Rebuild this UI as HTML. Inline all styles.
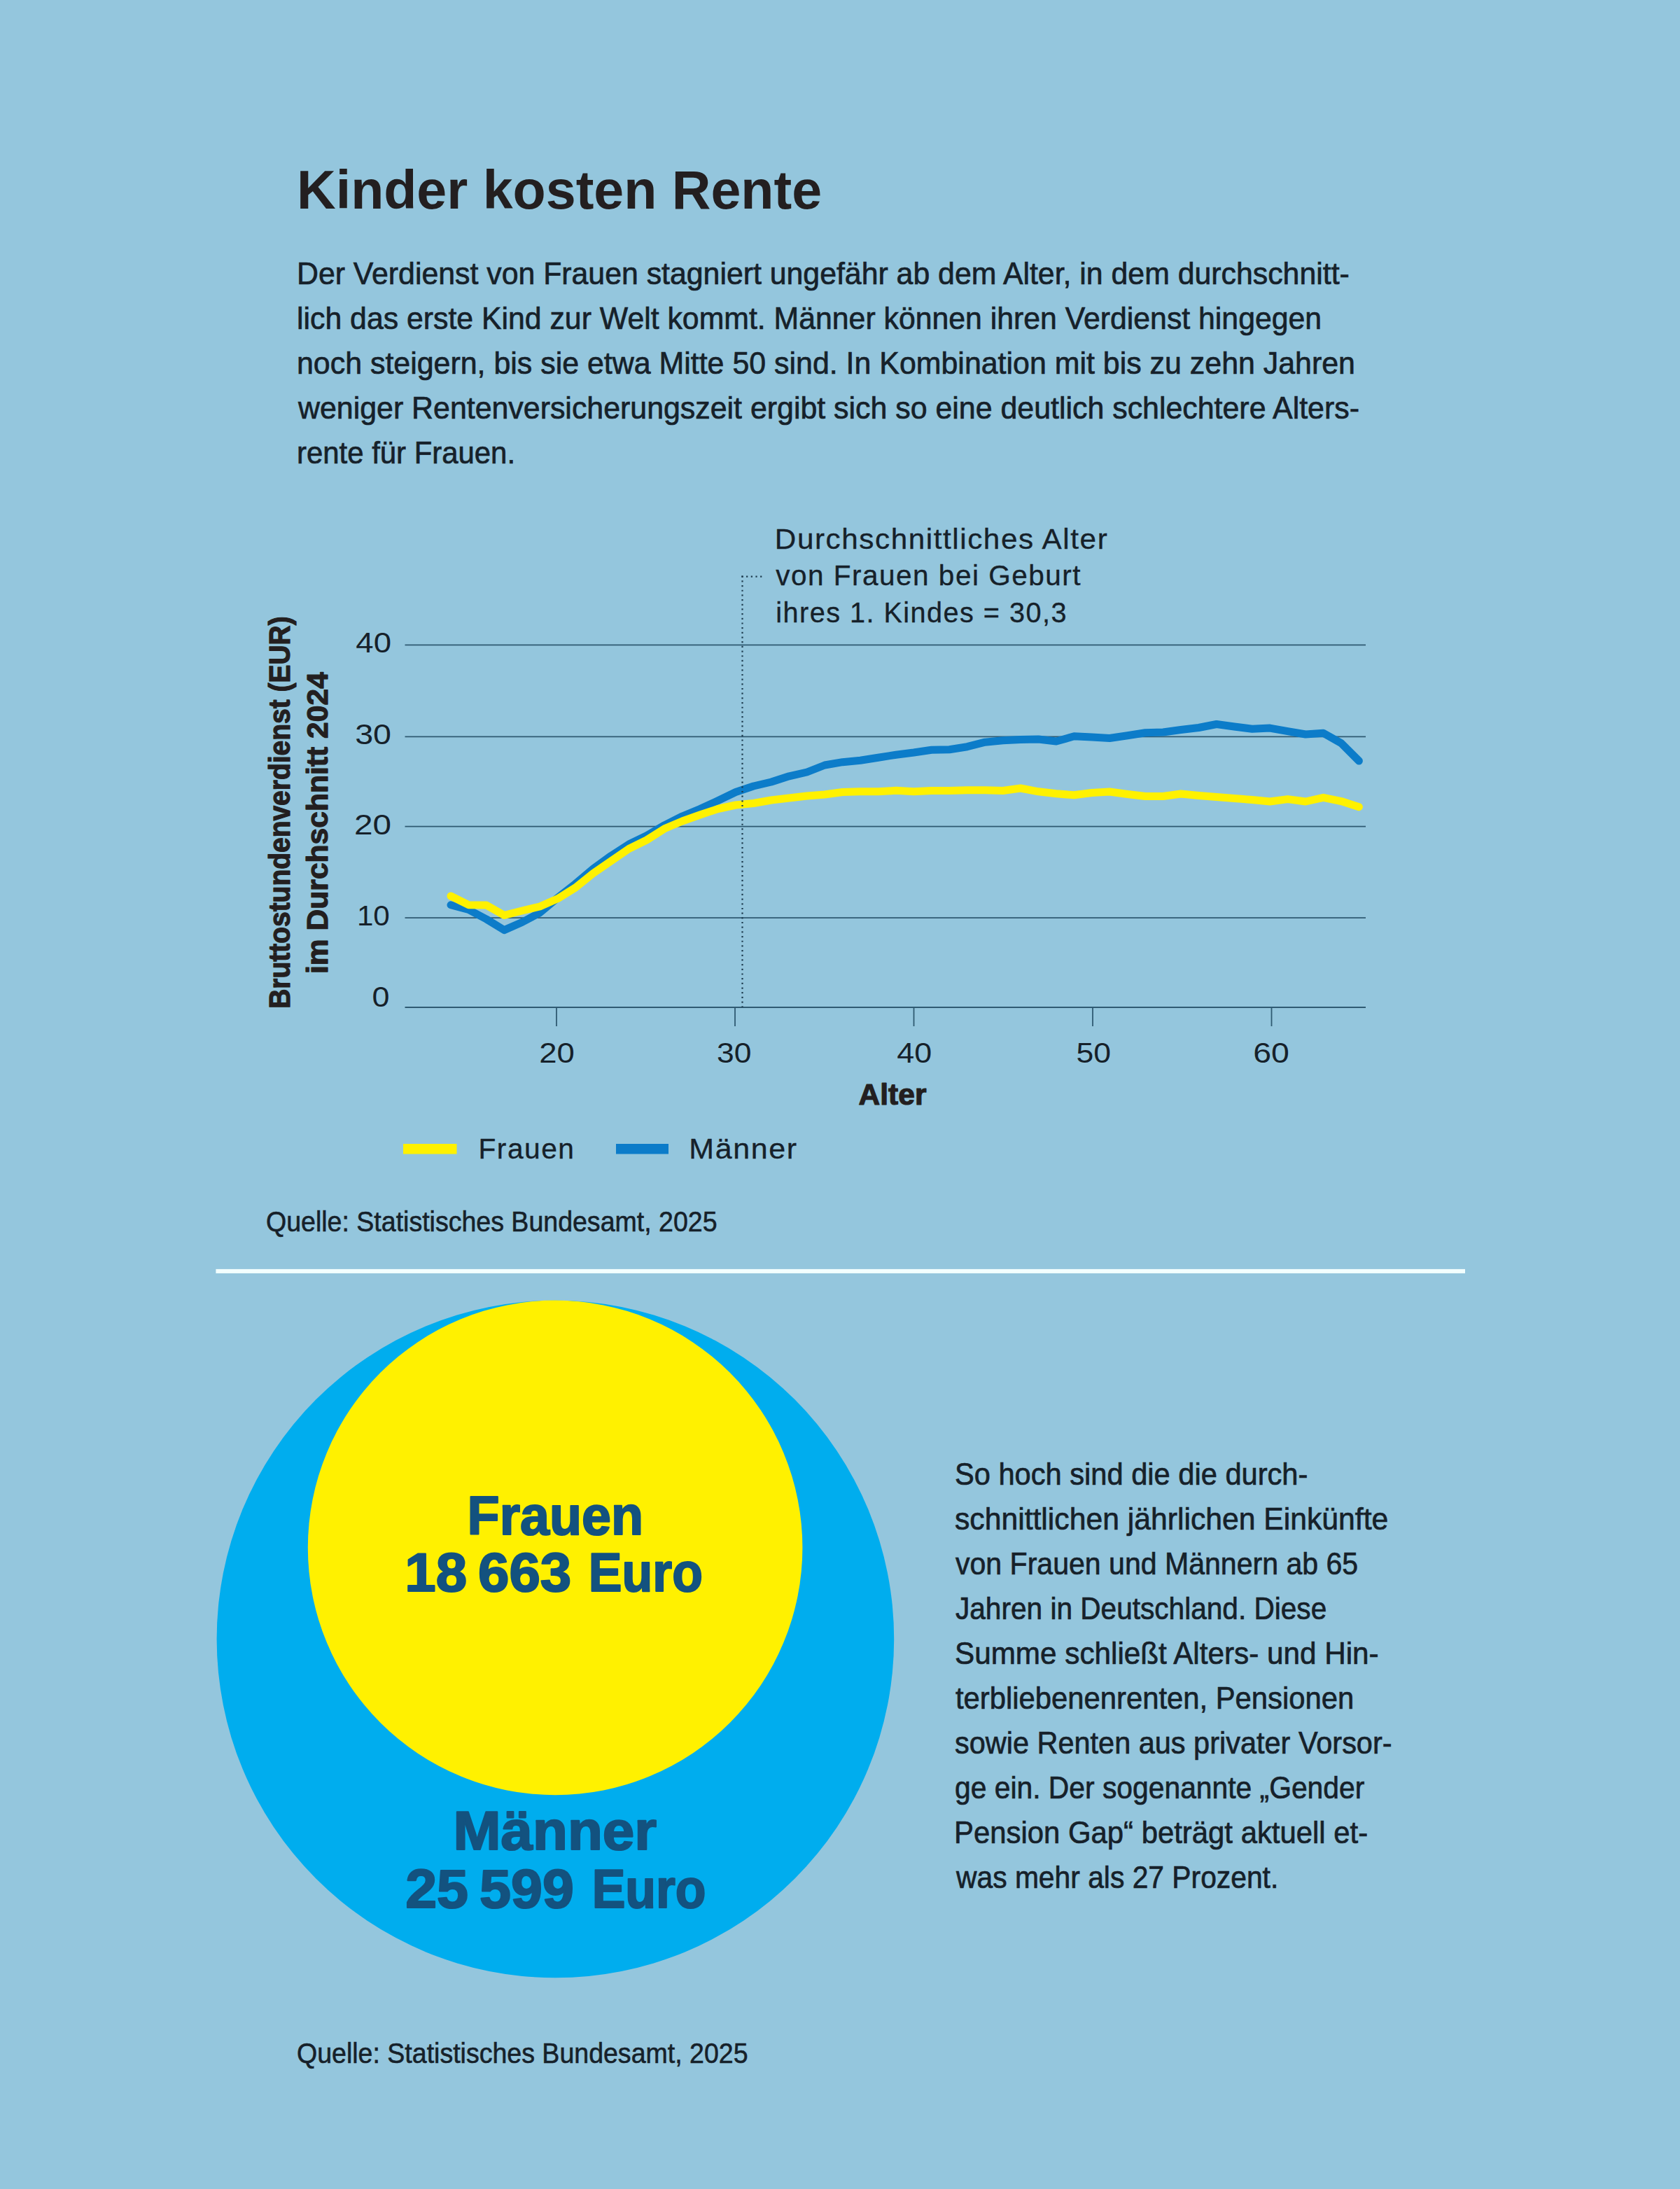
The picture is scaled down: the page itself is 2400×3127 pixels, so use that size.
<!DOCTYPE html>
<html lang="de">
<head>
<meta charset="utf-8">
<title>Kinder kosten Rente</title>
<style>
html,body{margin:0;padding:0;}
body{width:2400px;height:3127px;background:#94c6dd;position:relative;overflow:hidden;color:#16212a;font-family:"Liberation Sans",sans-serif;}
.art{position:absolute;left:0;top:0;}
h1{position:absolute;margin:0;font-size:78px;line-height:84px;font-weight:bold;color:#231f20;white-space:nowrap;transform-origin:0 50%;}
p{margin:0;}
.txt{position:absolute;font-size:44.6px;line-height:64px;white-space:nowrap;-webkit-text-stroke:.7px #16212a;}
.txt span{display:block;transform-origin:0 50%;white-space:nowrap;width:max-content;}
.src{position:absolute;font-size:40.5px;line-height:44px;white-space:nowrap;transform-origin:0 50%;-webkit-text-stroke:.6px #16212a;}
svg text{font-family:"Liberation Sans",sans-serif;fill:#16212a;stroke:#16212a;stroke-width:.6px;stroke-linejoin:round;}
svg .grid line{stroke:#2f5a72;stroke-width:1.8;}
svg .dots line{stroke:#1d3b4e;stroke-width:2.2;stroke-dasharray:2.2 4.48;}
svg .series{fill:none;stroke-width:11;stroke-linecap:round;stroke-linejoin:round;}
svg .num{font-size:41px;stroke-width:0;}
svg .ann{font-size:40.4px;letter-spacing:1.5px;stroke-width:.35px;}
svg .axb{font-size:42px;font-weight:bold;fill:#231f20;stroke:#231f20;stroke-width:1.2px;}
svg .big{font-size:78.3px;font-weight:bold;fill:#13527f;stroke:#13527f;stroke-width:2.2px;}
</style>
</head>
<body>
<main>
<svg class="art" width="2400" height="3127" viewBox="0 0 2400 3127">
<g class="grid">
<line x1="578.5" x2="1951" y1="921.3" y2="921.3"/>
<line x1="578.5" x2="1951" y1="1052.3" y2="1052.3"/>
<line x1="578.5" x2="1951" y1="1180.7" y2="1180.7"/>
<line x1="578.5" x2="1951" y1="1311.1" y2="1311.1"/>
<line x1="578.5" x2="1951" y1="1439" y2="1439"/>
<line x1="795" x2="795" y1="1439" y2="1466"/>
<line x1="1050" x2="1050" y1="1439" y2="1466"/>
<line x1="1305.5" x2="1305.5" y1="1439" y2="1466"/>
<line x1="1561" x2="1561" y1="1439" y2="1466"/>
<line x1="1816.5" x2="1816.5" y1="1439" y2="1466"/>
</g>
<polyline class="series" points="644.0,1292.8 669.4,1299.5 694.8,1313.0 720.3,1328.6 745.7,1317.5 771.2,1303.8 796.6,1282.5 822.0,1262.5 847.5,1241.0 872.9,1222.5 898.4,1206.0 923.8,1193.8 949.2,1178.8 974.7,1166.0 1000.1,1155.5 1025.6,1143.8 1051.0,1131.5 1076.4,1123.0 1101.9,1117.0 1127.3,1108.8 1152.8,1103.0 1178.2,1093.0 1203.6,1088.7 1229.1,1086.2 1254.5,1082.2 1280.0,1078.2 1305.4,1075.0 1330.8,1071.2 1356.3,1070.7 1381.7,1066.7 1407.2,1060.2 1432.6,1057.7 1458.0,1056.5 1483.5,1056.0 1508.9,1059.0 1534.4,1051.8 1559.8,1053.0 1585.2,1054.5 1610.7,1050.8 1636.1,1046.8 1661.6,1046.0 1687.0,1042.5 1712.4,1039.5 1737.9,1034.5 1763.3,1038.0 1788.8,1041.2 1814.2,1040.1 1839.6,1044.6 1865.1,1049.0 1890.5,1047.3 1916.0,1061.6 1941.4,1087.0" stroke="#0c7cc9"/>
<polyline class="series" points="644.0,1280.0 669.4,1292.7 694.8,1292.9 720.3,1307.5 745.7,1301.0 771.2,1295.0 796.6,1283.8 822.0,1268.0 847.5,1247.5 872.9,1230.0 898.4,1212.5 923.8,1200.0 949.2,1183.8 974.7,1173.0 1000.1,1164.0 1025.6,1155.5 1051.0,1150.0 1076.4,1147.5 1101.9,1143.0 1127.3,1140.0 1152.8,1137.0 1178.2,1135.0 1203.6,1131.5 1229.1,1130.8 1254.5,1130.8 1280.0,1129.3 1305.4,1130.8 1330.8,1129.5 1356.3,1129.5 1381.7,1128.8 1407.2,1128.8 1432.6,1129.5 1458.0,1126.0 1483.5,1130.8 1508.9,1133.8 1534.4,1135.8 1559.8,1132.5 1585.2,1131.0 1610.7,1134.5 1636.1,1137.5 1661.6,1137.5 1687.0,1134.0 1712.4,1136.5 1737.9,1138.5 1763.3,1140.5 1788.8,1142.5 1814.2,1145.0 1839.6,1141.6 1865.1,1145.0 1890.5,1139.3 1916.0,1144.6 1941.4,1152.7" stroke="#fff100"/>
<g class="dots"><line x1="1059.4" y1="823.7" x2="1088.4" y2="823.7"/><line x1="1060.5" y1="822.6" x2="1060.5" y2="1439"/></g>
<text class="num" transform="translate(508.30,932.3) scale(1.1116,1)">40</text>
<text class="num" transform="translate(507.16,1062.9) scale(1.1369,1)">30</text>
<text class="num" transform="translate(505.97,1191.9) scale(1.1635,1)">20</text>
<text class="num" transform="translate(509.91,1321.9) scale(1.0287,1)">10</text>
<text class="num" transform="translate(531.40,1438.3) scale(1.0952,1)">0</text>
<text class="num" transform="translate(770.28,1518.4) scale(1.1098,1)">20</text>
<text class="num" transform="translate(1023.92,1518.4) scale(1.0844,1)">30</text>
<text class="num" transform="translate(1281.20,1518.4) scale(1.0937,1)">40</text>
<text class="num" transform="translate(1537.51,1518.4) scale(1.0867,1)">50</text>
<text class="num" transform="translate(1790.23,1518.4) scale(1.1331,1)">60</text>
<text class="axb" transform="translate(414,1440.86) rotate(-90) scale(0.9278,1)">Bruttostundenverdienst (EUR)</text>
<text class="axb" transform="translate(468,1391.03) rotate(-90) scale(1.0145,1)">im Durchschnitt 2024</text>
<text class="axb" transform="translate(1226.59,1577.8) scale(1.0122,1)">Alter</text>
<text class="ann" transform="translate(1106.86,784) scale(1.0453,1)">Durchschnittliches Alter</text>
<text class="ann" transform="translate(1108.20,836.3) scale(1.0029,1)">von Frauen bei Geburt</text>
<text class="ann" transform="translate(1108.34,888.7) scale(0.9806,1)">ihres 1. Kindes = 30,3</text>
<rect x="576" y="1634" width="76.5" height="14.5" fill="#fff100"/>
<rect x="880" y="1634" width="75" height="14.5" fill="#0c7cc9"/>
<text class="ann" transform="translate(683.48,1655) scale(1.0076,1)">Frauen</text>
<text class="ann" transform="translate(984.31,1655) scale(1.0638,1)">Männer</text>
<rect x="308.4" y="1812.9" width="1784.6" height="6" fill="#f2fefe"/>
<circle cx="793.4" cy="2341.45" r="483.8" fill="#00adee"/>
<circle cx="793.1" cy="2210.9" r="353.3" fill="#fff100"/>
<text class="big" transform="translate(667.58,2192.1) scale(0.9633,1)">Frauen</text>
<text class="big" transform="translate(578.32,2273.3) scale(1.0192,1)">18 663</text>
<text class="big" transform="translate(840.83,2273.3) scale(0.9143,1)">Euro</text>
<text class="big" transform="translate(647.48,2642.4) scale(1.0437,1)">Männer</text>
<text class="big" transform="translate(579.14,2724.6) scale(1.0312,1)">25 599</text>
<text class="big" transform="translate(845.63,2724.6) scale(0.9137,1)">Euro</text>
</svg>
<h1 style="left:423.66px;top:229.0px;transform:scaleX(0.9889)">Kinder kosten Rente</h1>
<p class="txt" style="left:420px;top:358.9px"><span style="margin-left:3.52px;transform:scaleX(0.9599)">Der Verdienst von Frauen stagniert ungefähr ab dem Alter, in dem durchschnitt-</span><span style="margin-left:3.52px;transform:scaleX(0.9594)">lich das erste Kind zur Welt kommt. Männer können ihren Verdienst hingegen</span><span style="margin-left:3.98px;transform:scaleX(0.9621)">noch steigern, bis sie etwa Mitte 50 sind. In Kombination mit bis zu zehn Jahren</span><span style="margin-left:5.56px;transform:scaleX(0.9616)">weniger Rentenversicherungszeit ergibt sich so eine deutlich schlechtere Alters-</span><span style="margin-left:4.02px;transform:scaleX(0.9395)">rente für Frauen.</span></p>
<p class="src" style="left:379.77px;top:1722.8px;transform:scaleX(0.9265)">Quelle: Statistisches Bundesamt, 2025</p>
<p class="txt" style="left:1360px;top:2073.5px"><span style="margin-left:3.53px;transform:scaleX(0.9333)">So hoch sind die die durch-</span><span style="margin-left:4.44px;transform:scaleX(0.9572)">schnittlichen jährlichen Einkünfte</span><span style="margin-left:5.40px;transform:scaleX(0.9206)">von Frauen und Männern ab 65</span><span style="margin-left:5.40px;transform:scaleX(0.9102)">Jahren in Deutschland. Diese</span><span style="margin-left:3.51px;transform:scaleX(0.9472)">Summe schließt Alters- und Hin-</span><span style="margin-left:5.40px;transform:scaleX(0.9371)">terbliebenenrenten, Pensionen</span><span style="margin-left:4.47px;transform:scaleX(0.9298)">sowie Renten aus privater Vorsor-</span><span style="margin-left:4.48px;transform:scaleX(0.9151)">ge ein. Der sogenannte „Gender</span><span style="margin-left:2.58px;transform:scaleX(0.9389)">Pension Gap“ beträgt aktuell et-</span><span style="margin-left:6.31px;transform:scaleX(0.9148)">was mehr als 27 Prozent.</span></p>
<p class="src" style="left:424.17px;top:2910.7px;transform:scaleX(0.9265)">Quelle: Statistisches Bundesamt, 2025</p>
</main>
</body>
</html>
